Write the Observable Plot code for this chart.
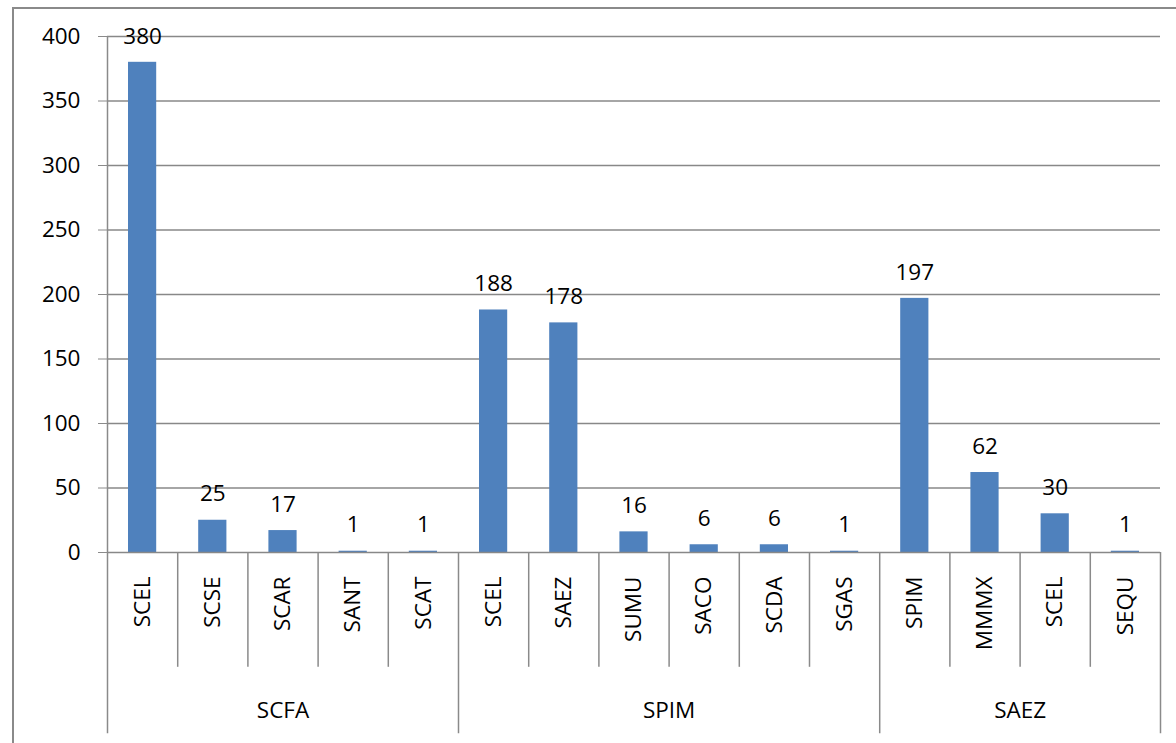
<!DOCTYPE html>
<html><head><meta charset="utf-8">
<script src="https://cdn.jsdelivr.net/npm/d3@7"></script>
<script src="https://cdn.jsdelivr.net/npm/@observablehq/plot@0.6"></script>
<style>
body{margin:0;background:#fff;}
#wrap{position:relative;width:1176px;height:743px;overflow:hidden;}
#frame{position:absolute;left:12px;top:7px;width:1200px;height:800px;border-top:2px solid #8a8a8a;border-left:2px solid #8a8a8a;pointer-events:none;}
#chart{position:absolute;left:0;top:0;}
</style></head>
<body><div id="wrap"><div id="frame"></div><div id="chart"></div></div>
<script>
const groups = ["SCFA","SCFA","SCFA","SCFA","SCFA","SPIM","SPIM","SPIM","SPIM","SPIM","SPIM","SAEZ","SAEZ","SAEZ","SAEZ"];
const categories = ["SCEL","SCSE","SCAR","SANT","SCAT","SCEL","SAEZ","SUMU","SACO","SCDA","SGAS","SPIM","MMMX","SCEL","SEQU"];
const values = [380,25,17,1,1,188,178,16,6,6,1,197,62,30,1];
const yTicks = [0,50,100,150,200,250,300,350,400];

const data = categories.map((c,i)=>({i, cat:c, group:groups[i], value:values[i]}));
const groupSpans = [];
groups.forEach((g,i)=>{
  const last = groupSpans[groupSpans.length-1];
  if(last && last.group===g) last.end = i+1; else groupSpans.push({group:g,start:i,end:i+1});
});
const catBounds = d3.range(1, categories.length).filter(i=>groups[i]===groups[i-1]);
const groupBounds = [0, ...groupSpans.map(s=>s.end)];

const FONT = "'Open Sans', sans-serif";
const FS = 22.5;
const catTickDepth = -89;
const groupDepth = -140.5;

const chart = Plot.plot({
  width:1176, height:743,
  marginLeft:107, marginRight:16, marginTop:36, marginBottom:191,
  style:{fontFamily:FONT, fontSize:FS+"px", color:"#000", background:"transparent", overflow:"visible"},
  x:{domain:[0,categories.length], axis:null},
  y:{domain:[0,400], ticks:yTicks, tickSize:9, tickPadding:18, label:null, tickFormat:d=>String(d)},
  marks:[
    Plot.ruleY(yTicks.filter(d=>d>0), {stroke:"#888", strokeWidth:1.5}),
    Plot.rectY(data, {x1:d=>d.i, x2:d=>d.i+1, y:"value", fill:"#4F81BD", insetLeft:21, insetRight:21}),
    Plot.ruleY([0], {stroke:"#888", strokeWidth:1.5}),
    Plot.ruleX(catBounds, {y1:catTickDepth, y2:0, stroke:"#8a8a8a", strokeWidth:1.5}),
    Plot.ruleX(groupBounds, {y1:groupDepth, y2:d=>d===0?400:0, stroke:"#8a8a8a", strokeWidth:1.5}),
    Plot.axisY({ticks:yTicks, tickSize:9, tickPadding:18, stroke:"#8a8a8a", fontSize:FS, tickFormat:d=>String(d)}),
    Plot.text(data, {x:d=>d.i+0.5, y:"value", text:d=>String(d.value), dy:-26, fontSize:FS, fill:"#000"}),
    Plot.text(data, {x:d=>d.i+0.5, y:-18.6, text:"cat", rotate:-90, textAnchor:"end", fontSize:FS, fill:"#000"}),
    Plot.text(groupSpans, {x:d=>(d.start+d.end)/2, y:-122.5, text:"group", fontSize:FS, fill:"#000"})
  ]
});
document.getElementById("chart").appendChild(chart);
</script></body></html>
